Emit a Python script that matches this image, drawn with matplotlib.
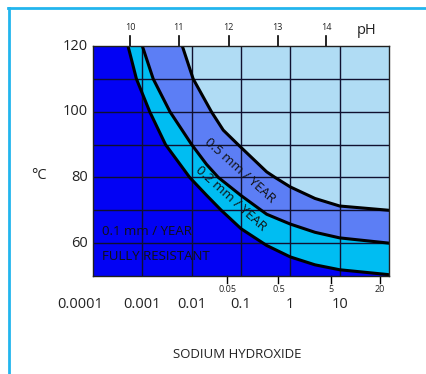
import matplotlib
matplotlib.use("Agg")
from matplotlib import pyplot as plt
from matplotlib.lines import Line2D

plt.rcParams['font.family'] = ['Open Sans', 'DejaVu Sans']

# iso-corrosion curves, x = log10(concentration), y = temperature in C
curve_01_x = [-3.29, -3.12, -2.85, -2.53, -2.04, -1.70, -1.40, -1.0, -0.48, 0.0, 0.5, 1.0, 2.0]
curve_01_y = [120, 110, 100, 90, 80, 74.6, 70, 64.4, 59.3, 55.8, 53.4, 51.9, 50.4]
curve_02_x = [-3.0, -2.78, -2.44, -2.0, -1.70, -1.46, -1.0, -0.48, 0.0, 0.5, 1.0, 2.0]
curve_02_y = [120, 110, 100, 90, 84.0, 80, 74.5, 68.8, 65.8, 63.3, 61.6, 60.0]
curve_05_x = [-2.19, -1.97, -1.60, -1.36, -1.06, -0.48, -0.31, 0.0, 0.5, 1.0, 2.0]
curve_05_y = [120, 110, 100, 94.4, 90, 81.7, 80, 77.1, 73.6, 71.3, 70.0]

temp_ticks = [60, 80, 100, 120]
conc_pos = [-4, -3, -2, -1, 0, 1]
conc_labels = ['0.0001', '0.001', '0.01', '0.1', '1', '10']
ph_pos = [-3.25, -2.26, -1.25, -0.26, 0.73]
ph_labels = ['10', '11', '12', '13', '14']
pct_pos = [-1.28, -0.24, 0.82, 1.82]
pct_labels = ['0.05', '0.5', '5', '20']

dark = '#0202f4'
cyan = '#00bdf2'
mid = '#5c7ef5'
light = '#b0dcf4'

fig = plt.figure(figsize=(4.27, 3.74), dpi=100)
ax = fig.add_axes([93 / 427, 1 - 276 / 374, 296 / 427, 230 / 374])
ax.set_xlim(-4, 2)
ax.set_ylim(50, 120)
ax.set_facecolor(light)


def region(xs, ys, color):
    px = list(xs) + [2, -4, -4]
    py = list(ys) + [50, 50, 120]
    ax.fill(px, py, color=color, lw=0, zorder=1)


region(curve_05_x, curve_05_y, mid)
region(curve_02_x, curve_02_y, cyan)
region(curve_01_x, curve_01_y, dark)

for gx in [-3, -2, -1, 0, 1]:
    ax.axvline(gx, color='#101030', lw=1, zorder=2)
for gy in [60, 70, 80, 90, 100, 110]:
    ax.axhline(gy, color='#101030', lw=1, zorder=2)

for xs, ys in [(curve_01_x, curve_01_y), (curve_02_x, curve_02_y), (curve_05_x, curve_05_y)]:
    ax.plot(xs, ys, color='black', lw=2.2, zorder=3, solid_joinstyle='round')

for s in ax.spines.values():
    s.set_color('#202020')
    s.set_linewidth(1)
    s.set_zorder(4)

ax.set_xticks([])
ax.set_yticks([])

# temperature labels
for t in temp_ticks:
    ax.text(-4.1, t, str(t), ha='right', va='center', fontsize=10.5, color='#222222')
ax.text(-5.1, 80.5, '°C', ha='center', va='center', fontsize=10.5, color='#222222')

# concentration labels
for p, lab in zip(conc_pos, conc_labels):
    xx = p - 0.25 if p == -4 else p
    ax.text(xx, 41.3, lab, ha='center', va='center', fontsize=10.5, color='#222222')

# pH ticks on top
for p, lab in zip(ph_pos, ph_labels):
    ax.add_line(Line2D([p, p], [120, 123], color='black', lw=1.2, clip_on=False))
    ax.text(p, 125.5, lab, ha='center', va='center', fontsize=6.5, color='#222222')
ax.text(1.55, 124.7, 'pH', ha='center', va='center', fontsize=10.5, color='#222222')

# weight % ticks on bottom
for p, lab in zip(pct_pos, pct_labels):
    ax.add_line(Line2D([p, p], [50, 48], color='black', lw=1, clip_on=False))
    ax.text(p, 45.9, lab, ha='center', va='center', fontsize=6.5, color='#222222')

ax.text(-3.81, 63.5, '0.1 mm / YEAR', ha='left', va='center', fontsize=9.5, color='#111111', zorder=5)
ax.text(-3.81, 55.9, 'FULLY RESISTANT', ha='left', va='center', fontsize=9.5, color='#111111', zorder=5)
ax.text(-1.02, 82.0, '0.5 mm / YEAR', ha='center', va='center', fontsize=9.5, color='#111111',
        rotation=-42, rotation_mode='anchor', zorder=5)
ax.text(-1.21, 73.5, '0.2 mm / YEAR', ha='center', va='center', fontsize=9.5, color='#111111',
        rotation=-42, rotation_mode='anchor', zorder=5)

fig.text(237 / 427, 1 - 355 / 374, 'SODIUM HYDROXIDE', ha='center', va='center', fontsize=9.5, color='#222222')

# light blue frame on left and top
fig.add_artist(Line2D([9 / 427, 9 / 427], [0, 1 - 8 / 374], transform=fig.transFigure, color='#22b5ee', lw=2))
fig.add_artist(Line2D([8 / 427, 1], [1 - 8 / 374, 1 - 8 / 374], transform=fig.transFigure, color='#22b5ee', lw=2))

fig.savefig('out.png', dpi=100)
